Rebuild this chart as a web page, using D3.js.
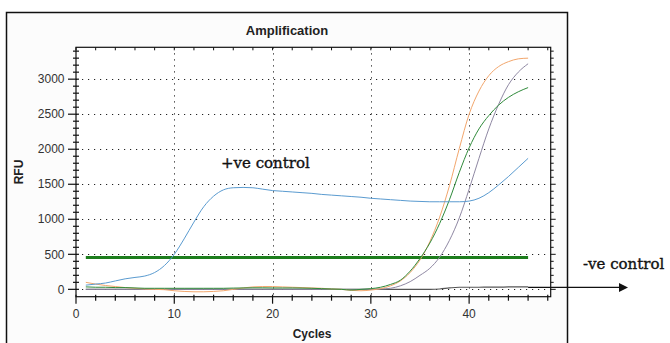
<!DOCTYPE html>
<html>
<head>
<meta charset="utf-8">
<script src="https://cdn.jsdelivr.net/npm/d3@7"></script>
<style>
  body { margin: 0; background: #fff; }
  .tick-label { font-family: Arial, "Liberation Sans", sans-serif; font-size: 12px; fill: #333; }
  .axis-title { font-family: Arial, "Liberation Sans", sans-serif; font-size: 12px; font-weight: bold; fill: #222; }
  .note { font-family: "DejaVu Serif", serif; font-size: 15px; fill: #111; stroke: #111; stroke-width: 0.35px; }
</style>
</head>
<body>
<div id="chart"></div>
<script>
// ---------- Data ----------
const cycles = d3.range(1, 47);

const positiveControl = [
  60, 75, 90, 120, 150, 170, 190, 240, 340, 500,
  720, 960, 1180, 1330, 1420, 1450, 1455, 1450, 1430, 1410,
  1400, 1390, 1380, 1370, 1355, 1345, 1335, 1325, 1315, 1300,
  1290, 1280, 1270, 1260, 1255, 1250, 1250, 1250, 1250, 1260,
  1300, 1380, 1490, 1610, 1740, 1870
];

const sampleOrange = [
  100, 75, 55, 40, 25, 15, 5, 0, -5, -20,
  -30, -35, -35, -30, -20, 0, 20, 35, 40, 40,
  35, 30, 25, 20, 15, 5, 0, -15, -20, -10,
  10, 50, 120, 240, 420, 680, 1030, 1480, 2010, 2500,
  2830, 3050, 3180, 3250, 3290, 3300
];

const sampleGray = [
  0, 0, 0, 0, 0, 0, 0, 0, 0, 0,
  0, 0, 0, 0, 0, 0, 0, 0, 0, 0,
  0, 0, 0, 0, 0, 0, 0, 0, 0, 0,
  5, 15, 50, 110, 200, 300, 460, 700, 1020, 1430,
  1870, 2290, 2640, 2920, 3100, 3220
];

const sampleGreen = [
  35, 30, 30, 25, 25, 20, 15, 15, 15, 15,
  15, 15, 15, 15, 15, 18, 20, 22, 22, 20,
  20, 20, 18, 15, 10, 5, 0, -10, 0, 10,
  30, 70, 130, 260, 440, 660, 940, 1280, 1670, 2020,
  2290, 2480, 2630, 2740, 2820, 2880
];

const negativeControl = [
  0, 0, 0, 0, 0, 0, 0, 0, 0, 0,
  0, 0, 0, 0, 0, 0, 0, 0, 0, 0,
  0, 0, 0, 0, 0, 0, 0, 0, 0, 0,
  0, 0, 0, 0, 0, 0, 5, 20, 30, 30,
  30, 32, 32, 34, 34, 35
];

const threshold = 457;

const xTickValues = [0, 10, 20, 30, 40];
const yTickValues = [0, 500, 1000, 1500, 2000, 2500, 3000];

const series = [
  { name: "negative", values: negativeControl, color: "#555555", width: 1.2 },
  { name: "gray",     values: sampleGray,      color: "#8f88a3", width: 1 },
  { name: "orange",   values: sampleOrange,    color: "#f2a66c", width: 1 },
  { name: "green",    values: sampleGreen,     color: "#2f8a3a", width: 1 },
  { name: "positive", values: positiveControl, color: "#5a9bd0", width: 1 }
];

// ---------- Layout ----------
const width = 670, height = 343;
const plot = { left: 76, right: 550.7, top: 47.3, bottom: 296.7 };

const svg = d3.select("#chart").append("svg")
  .attr("width", width)
  .attr("height", height);

// outer frame
svg.append("rect")
  .attr("x", 6.5).attr("y", 12.5)
  .attr("width", 561).attr("height", 340)
  .attr("fill", "#fcfcfc")
  .attr("stroke", "#111")
  .attr("stroke-width", 1.5);

svg.append("rect")
  .attr("x", plot.left).attr("y", plot.top)
  .attr("width", plot.right - plot.left).attr("height", plot.bottom - plot.top)
  .attr("fill", "#fff");

// ---------- Scales ----------
const x = d3.scaleLinear().domain([0, 48.3]).range([plot.left, plot.right]);
const y = d3.scaleLinear().domain([-105, 3455]).range([plot.bottom, plot.top]);

// ---------- Grid ----------
const grid = svg.append("g").attr("class", "grid")
  .attr("stroke", "#222").attr("stroke-width", 1).attr("stroke-dasharray", "1.2,4.8");

grid.selectAll(".gx").data(xTickValues.filter(d => d > 0)).enter().append("line")
  .attr("x1", d => Math.round(x(d)) + 0.5).attr("x2", d => Math.round(x(d)) + 0.5)
  .attr("y1", plot.top).attr("y2", plot.bottom);

grid.selectAll(".gy").data(yTickValues).enter().append("line")
  .attr("y1", d => Math.round(y(d)) + 0.5).attr("y2", d => Math.round(y(d)) + 0.5)
  .attr("x1", plot.left).attr("x2", plot.right);

// ---------- Curves ----------
const line = d3.line()
  .x((d, i) => x(cycles[i]))
  .y(d => y(d))
  .curve(d3.curveMonotoneX);

const thrY = Math.round(y(threshold)) + 0.5;
svg.append("line")
  .attr("x1", x(1)).attr("x2", x(46))
  .attr("y1", thrY).attr("y2", thrY)
  .attr("stroke", "#1d7d1d")
  .attr("stroke-width", 3);

svg.selectAll(".curve").data(series).enter().append("path")
  .attr("class", "curve")
  .attr("d", d => line(d.values))
  .attr("fill", "none")
  .attr("stroke", d => d.color)
  .attr("stroke-width", d => d.width);

// ---------- Axes ----------
const axes = svg.append("g").attr("stroke", "#111");

axes.append("rect")
  .attr("x", plot.left).attr("y", plot.top)
  .attr("width", plot.right - plot.left).attr("height", plot.bottom - plot.top)
  .attr("fill", "none").attr("stroke-width", 1.2);

const xMinor = d3.range(0, 49, 2);
const yMinor = d3.range(0, 3401, 100);

// bottom ticks
axes.selectAll(".bx").data(xMinor).enter().append("line")
  .attr("x1", d => x(d)).attr("x2", d => x(d))
  .attr("y1", plot.bottom - 2)
  .attr("y2", d => d % 10 === 0 ? plot.bottom + 7 : plot.bottom + 4)
  .attr("stroke-width", 1.2);

// top ticks
axes.selectAll(".tx").data(xMinor).enter().append("line")
  .attr("x1", d => x(d)).attr("x2", d => x(d))
  .attr("y1", plot.top).attr("y2", plot.top + 3)
  .attr("stroke-width", 1);

// left ticks
axes.selectAll(".ly").data(yMinor).enter().append("line")
  .attr("y1", d => y(d)).attr("y2", d => y(d))
  .attr("x1", d => d % 500 === 0 ? plot.left - 8 : plot.left - 3)
  .attr("x2", plot.left + 3)
  .attr("stroke-width", 1.2);

// right ticks
axes.selectAll(".ry").data(yMinor).enter().append("line")
  .attr("y1", d => y(d)).attr("y2", d => y(d))
  .attr("x1", plot.right)
  .attr("x2", d => d % 500 === 0 ? plot.right + 5 : plot.right + 3)
  .attr("stroke-width", 1);

// tick labels
svg.selectAll(".xl").data(xTickValues).enter().append("text")
  .attr("class", "tick-label")
  .attr("x", d => x(d)).attr("y", 317.5)
  .attr("text-anchor", "middle")
  .text(d => d);

svg.selectAll(".yl").data(yTickValues).enter().append("text")
  .attr("class", "tick-label")
  .attr("x", 64.5).attr("y", d => y(d) + 4.2)
  .attr("text-anchor", "end")
  .text(d => d);

// ---------- Titles ----------
svg.append("text")
  .attr("class", "axis-title")
  .attr("x", 287).attr("y", 35)
  .attr("text-anchor", "middle")
  .style("font-size", "13px")
  .text("Amplification");

svg.append("text")
  .attr("class", "axis-title")
  .attr("x", 312).attr("y", 337.5)
  .attr("text-anchor", "middle")
  .text("Cycles");

svg.append("text")
  .attr("class", "axis-title")
  .attr("transform", "translate(22.5,172) rotate(-90)")
  .attr("text-anchor", "middle")
  .text("RFU");

// ---------- Annotations ----------
svg.append("text")
  .attr("class", "note")
  .attr("x", 221).attr("y", 168)
  .text("+ve control");

svg.append("text")
  .attr("class", "note")
  .attr("x", 583).attr("y", 269)
  .text("-ve control");

const arrowY = y(negativeControl[negativeControl.length - 1]) + 0.5;
svg.append("line")
  .attr("x1", x(46)).attr("x2", 620)
  .attr("y1", arrowY).attr("y2", arrowY)
  .attr("stroke", "#111").attr("stroke-width", 1.2);

svg.append("path")
  .attr("d", `M619,${arrowY - 4.5}L628,${arrowY}L619,${arrowY + 4.5}Z`)
  .attr("fill", "#111");
</script>
</body>
</html>
